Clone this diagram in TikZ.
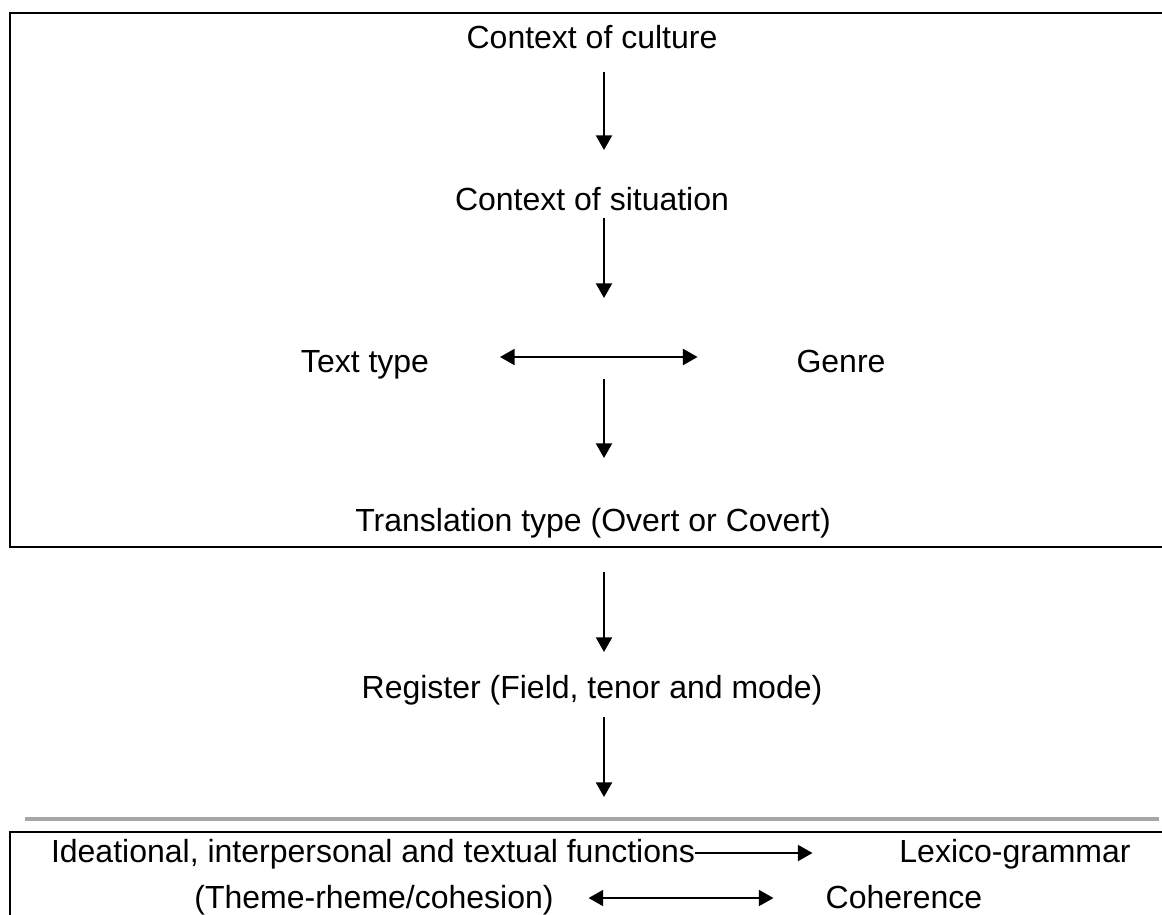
\documentclass[tikz,border=0pt]{standalone}
\usepackage{fontspec}
\setmainfont{Liberation Sans}
\usetikzlibrary{arrows.meta,positioning}

\begin{document}
\begin{tikzpicture}[x=0.75pt,y=-0.75pt,
                    every node/.append style={font=\fontsize{24}{28}\selectfont,
                    inner sep=0pt,anchor=base},
                    arr/.style={line width=1.6pt,-{Triangle[length=11pt,width=12pt]}},
                    dbl/.style={line width=1.6pt,{Triangle[length=11pt,width=12pt]}-{Triangle[length=11pt,width=12pt]}}]
    \useasboundingbox (0,0) rectangle (1162,914);
    \clip (0,0) rectangle (1162,914);
    % frames
    \begin{scope}[line width=1.5pt]
      \draw (1170,13) -- (10,13) -- (10,547) -- (1170,547);
      \draw (1170,832) -- (10,832) -- (10,930);
    \end{scope}
    \draw[line width=2.3pt, color=black!35] (25,819) -- (1159,819);
    \coordinate (spine) at (604,0);
    % upper part
    \node (culture)  at (592,48)  {Context of culture};
    \node (situation) at (592,210) {Context of situation};
    \node (texttype) at (365,372) {Text type};
    \node (genre)    at (841,372) {Genre};
    \node (translation) at (593,531) {Translation type (Overt or Covert)};
    \node (register) at (592,698) {Register (Field, tenor and mode)};
    % lower part
    \node (ideational) at (373,862) {Ideational, interpersonal and textual functions};
    \node (lexico)   at (1015,862) {Lexico-grammar};
    \node (theme)    at (374,908) {(Theme-rheme/cohesion)};
    \node (coherence) at (904,908) {Coherence};
    % arrows
    \draw[arr, shorten <=18pt, shorten >=45pt] (culture.base -| spine) -- (situation.base -| spine);
    \draw[arr, shorten <=6pt, shorten >=55.5pt] (situation.base -| spine) -- (texttype.base -| spine);
    \draw[dbl, shorten <=53pt, shorten >=74pt] ([yshift=11.25pt]texttype.base east) -- ([yshift=11.25pt]genre.base west);
    \draw[arr, shorten <=5.25pt, shorten >=54.75pt] (texttype.base -| spine) -- (translation.base -| spine);
    \draw[arr, shorten <=30.75pt, shorten >=34.5pt] (translation.base -| spine) -- (register.base -| spine);
    \draw[arr, shorten <=14.25pt, shorten >=48.75pt] (register.base -| spine) -- (ideational.base -| spine);
    \draw[arr, shorten >=65pt] ([yshift=6.75pt]ideational.base east) -- ([yshift=6.75pt]lexico.base west);
    \draw[dbl, shorten <=26pt, shorten >=39pt] ([yshift=7.5pt]theme.base east) -- ([yshift=7.5pt]coherence.base west);
\end{tikzpicture}
\end{document}
